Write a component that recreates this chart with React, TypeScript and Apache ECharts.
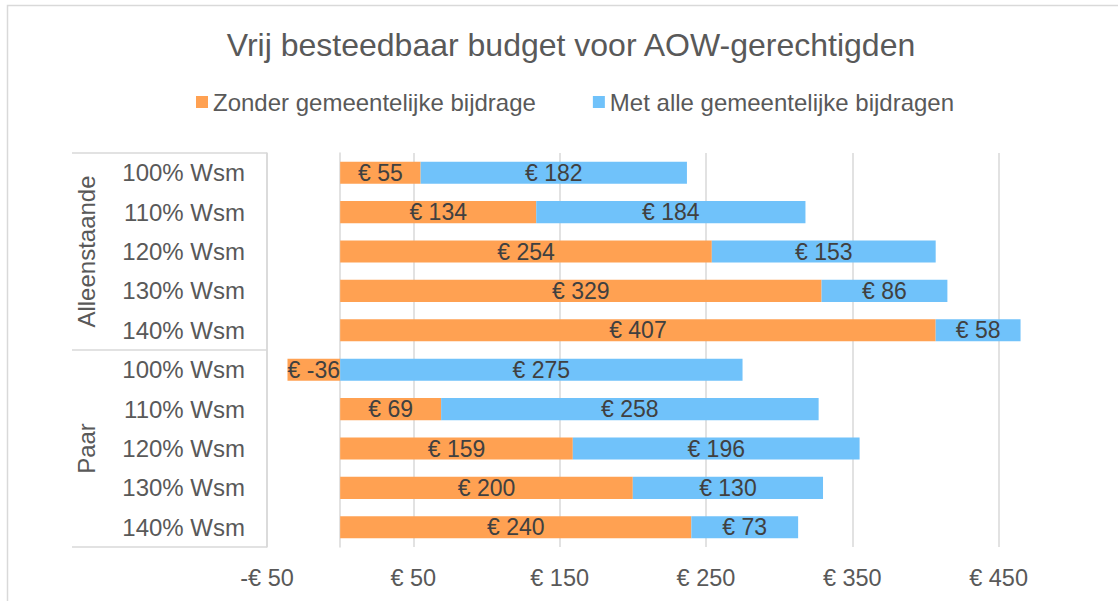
import React, { useEffect, useRef } from "react";
import * as echarts from "echarts";

const categories = [
  "100% Wsm", "110% Wsm", "120% Wsm", "130% Wsm", "140% Wsm",
  "100% Wsm", "110% Wsm", "120% Wsm", "130% Wsm", "140% Wsm",
];
const groups = ["Alleenstaande", "Paar"];
const zonder = [55, 134, 254, 329, 407, -36, 69, 159, 200, 240];
const met = [182, 184, 153, 86, 58, 275, 258, 196, 130, 73];
const seriesNames = ["Zonder gemeentelijke bijdrage", "Met alle gemeentelijke bijdragen"];
const titleText = "Vrij besteedbaar budget voor AOW-gerechtigden";

const FONT = "Liberation Sans, Arial, sans-serif";
const GRID = "#D9D9D9";

export default function App() {
  const ref = useRef<HTMLDivElement>(null);
  useEffect(() => {
    if (!ref.current) return;
    const chart = echarts.init(ref.current, undefined, { renderer: "svg" });
    const euro = (v: number) => (v < 0 ? "-€ " + Math.abs(v) : "€ " + v);
    const barLabel = {
      show: true,
      position: "inside",
      color: "#404040",
      fontSize: 23,
      fontFamily: FONT,
      formatter: (p: any) => "€ " + p.value,
    };
    chart.setOption({
      animation: false,
      backgroundColor: "#fff",
      textStyle: { fontFamily: FONT },
      title: {
        text: titleText,
        left: 566,
        textAlign: "center",
        top: 24,
        textStyle: { fontSize: 32, fontWeight: "normal", color: "#595959", fontFamily: FONT },
      },
      legend: {
        left: 196,
        top: 90,
        padding: 0,
        itemWidth: 12,
        itemHeight: 12,
        itemGap: 57,
        icon: "rect",
        textStyle: { fontSize: 24, color: "#595959", fontFamily: FONT },
        data: seriesNames,
      },
      grid: { left: 267, right: 75.5, top: 153, bottom: 54 },
      xAxis: {
        type: "value",
        min: -50,
        max: 480,
        interval: 100,
        axisLine: { show: false },
        axisTick: { show: false },
        splitLine: { show: true, showMaxLine: false, lineStyle: { color: GRID, width: 1.5 } },
        axisLabel: {
          showMaxLabel: false,
          margin: 19,
          fontSize: 23.5,
          color: "#595959",
          fontFamily: FONT,
          formatter: euro,
        },
      },
      yAxis: [
        {
          type: "category",
          data: categories,
          inverse: true,
          position: "left",
          axisLine: { show: true, onZero: true, lineStyle: { color: GRID, width: 1.5 } },
          axisTick: { show: false },
          axisLabel: { interval: 0, margin: 22, fontSize: 24, color: "#595959", fontFamily: FONT },
        },
        {
          type: "category",
          data: groups,
          inverse: true,
          position: "left",
          offset: 0,
          axisLine: { show: true, onZero: false, lineStyle: { color: GRID, width: 1.5 } },
          axisTick: { show: true, interval: 0, length: 195, lineStyle: { color: GRID, width: 1.5 } },
          axisLabel: {
            interval: 0,
            hideOverlap: false,
            rotate: 90,
            margin: 169,
            fontSize: 24,
            color: "#595959",
            fontFamily: FONT,
          },
        },
      ],
      graphic: [
        {
          type: "rect",
          shape: { x: 7.5, y: 5.5, width: 1300, height: 800 },
          style: { fill: "none", stroke: GRID, lineWidth: 1.5 },
          silent: true,
        },
      ],
      series: [
        {
          name: seriesNames[0],
          type: "bar",
          stack: "total",
          yAxisIndex: 0,
          barWidth: "56%",
          itemStyle: { color: "#FFA152" },
          label: barLabel,
          data: zonder,
        },
        {
          name: seriesNames[1],
          type: "bar",
          stack: "total",
          yAxisIndex: 0,
          barWidth: "56%",
          itemStyle: { color: "#70C2FA" },
          label: barLabel,
          data: met,
        },
      ],
    });
    return () => chart.dispose();
  }, []);
  return (
    <div
      ref={ref}
      style={{ position: "fixed", left: 0, top: 0, width: 1118, height: 601 }}
    />
  );
}
